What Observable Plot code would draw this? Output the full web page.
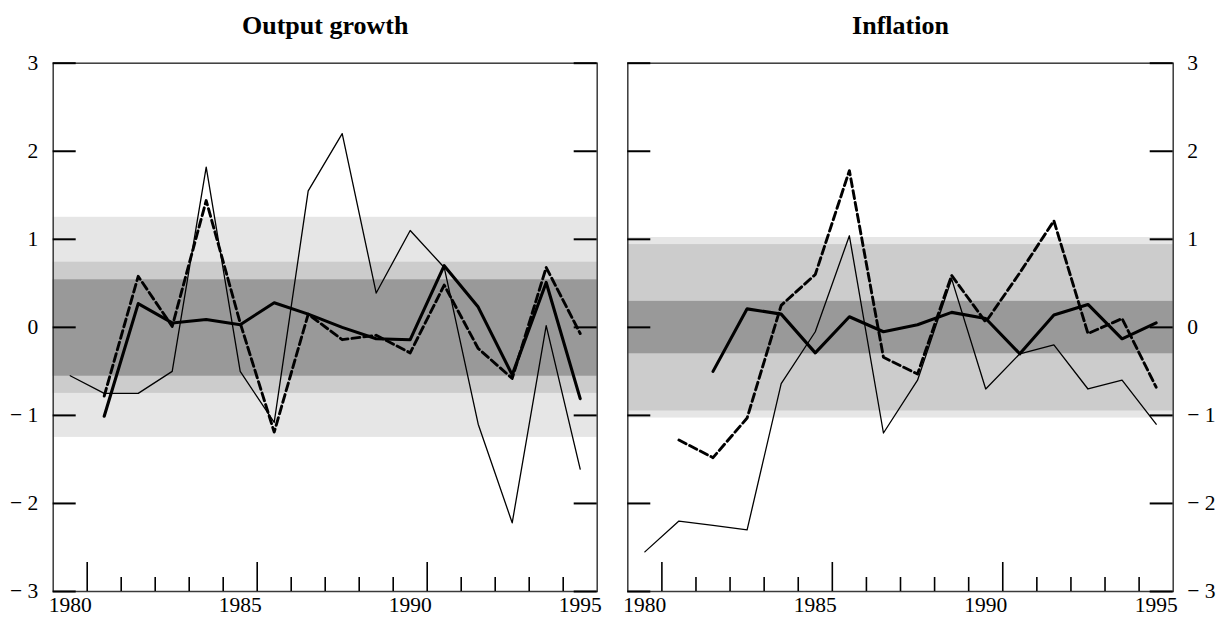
<!DOCTYPE html>
<html><head><meta charset="utf-8">
<script src="https://cdn.jsdelivr.net/npm/d3@7"></script>
<script src="https://cdn.jsdelivr.net/npm/@observablehq/plot@0.6"></script>
<style>
body{margin:0;background:#fff;}
#wrap{display:flex;width:1221px;height:622px;overflow:hidden;}
#wrap svg text{font-size:21.5px !important;}
#wrap svg g[aria-label="text"] text{font-size:26px !important;font-weight:bold;}
</style></head><body><div id="wrap"></div>
<script>
const years = [1980,1981,1982,1983,1984,1985,1986,1987,1988,1989,1990,1991,1992,1993,1994,1995];

// Output growth
const outThin   = [-0.55,-0.75,-0.75,-0.50,1.82,-0.50,-1.08,1.55,2.20,0.39,1.10,0.68,-1.10,-2.22,0.02,-1.61];
const outThick  = [null,-1.01,0.27,0.05,0.09,0.03,0.28,0.15,0.00,-0.13,-0.14,0.70,0.23,-0.54,0.51,-0.81];
const outDashed = [null,-0.78,0.58,0.01,1.44,0.05,-1.19,0.15,-0.14,-0.09,-0.29,0.48,-0.24,-0.58,0.68,-0.07];
const outBands  = [[-1.25,1.25],[-0.75,0.74],[-0.555,0.54]];

// Inflation
const infThin   = [-2.55,-2.20,-2.25,-2.30,-0.64,-0.05,1.04,-1.20,-0.60,0.55,-0.70,-0.30,-0.20,-0.70,-0.60,-1.10];
const infThick  = [null,null,-0.50,0.21,0.15,-0.29,0.12,-0.05,0.03,0.17,0.10,-0.30,0.14,0.26,-0.13,0.05];
const infDashed = [null,-1.28,-1.48,-1.03,0.25,0.60,1.78,-0.34,-0.53,0.59,0.06,0.62,1.21,-0.07,0.10,-0.68];
const infBands  = [[-1.03,1.02],[-0.95,0.94],[-0.30,0.295]];

const yTicks = [-3,-2,-1,0,1,2,3];
const xLabels = [1980,1985,1990,1995];
const minorTicks = [1981.5,1982.5,1983.5,1984.5,1986.5,1987.5,1988.5,1989.5,1991.5,1992.5,1993.5,1994.5];
const majorTicks = [1980.5,1985.5,1990.5];
const bandFills = ["#e6e6e6","#cccccc","#999999"];

const fmt = d => d < 0 ? "\u2212 " + Math.abs(d) : String(d);

function panel({title, thin, thick, dashed, bands, anchor, width, marginLeft, marginRight, pad}) {
  const height = 622, marginTop = 62.7, marginBottom = 31;
  const plotW = width - marginLeft - marginRight;
  const plotH = height - marginTop - marginBottom;
  const rows = s => years.map((y, i) => ({year: y, value: s[i]}));
  return Plot.plot({
    width, height, marginLeft, marginRight, marginTop, marginBottom,
    style: "font-family:'Liberation Serif','Times New Roman',serif;font-size:21.5px;color:#000;background:#fff;",
    x: {domain: [1979.5, 1995.5]},
    y: {domain: [-3, 3]},
    marks: [
      ...bands.map((b, i) => Plot.rect([b], {y1: d => d[0], y2: d => d[1], fill: bandFills[i]})),
      Plot.frame({stroke: "#3a3a3a", strokeWidth: 1.5}),
      Plot.tickY(yTicks, {y: d => d, insetRight: plotW - 23, stroke: "#000", strokeWidth: 2}),
      Plot.tickY(yTicks, {y: d => d, insetLeft: plotW - 23, stroke: "#000", strokeWidth: 2}),
      Plot.tickX(minorTicks, {x: d => d, insetTop: plotH - 14, stroke: "#000", strokeWidth: 1.6}),
      Plot.tickX(majorTicks, {x: d => d, insetTop: plotH - 29, stroke: "#000", strokeWidth: 1.6}),
      Plot.axisY(yTicks, {anchor, tickSize: 0, tickPadding: pad, tickFormat: fmt, label: null, fontSize: 21.5}),
      Plot.axisX(xLabels, {anchor: "bottom", tickSize: 0, tickPadding: 5, tickFormat: d => String(d), label: null, fontSize: 21.5}),
      Plot.line(rows(thin), {x: "year", y: "value", stroke: "#000", strokeWidth: 1.3}),
      Plot.line(rows(dashed), {x: "year", y: "value", stroke: "#000", strokeWidth: 2.9, strokeDasharray: "8,4"}),
      Plot.line(rows(thick), {x: "year", y: "value", stroke: "#000", strokeWidth: 3.1}),
      Plot.text([title], {text: d => d, frameAnchor: "top", lineAnchor: "bottom", dy: -29.4, fontWeight: "bold", fontSize: 26})
    ]
  });
}

const wrap = document.getElementById("wrap");
wrap.append(panel({title: "Output growth", thin: outThin, thick: outThick, dashed: outDashed, bands: outBands,
  anchor: "left", width: 611, marginLeft: 52.7, marginRight: 14.3, pad: 15}));
wrap.append(panel({title: "Inflation", thin: infThin, thick: infThick, dashed: infDashed, bands: infBands,
  anchor: "right", width: 610, marginLeft: 16.3, marginRight: 48.3, pad: 14}));
</script></body></html>
